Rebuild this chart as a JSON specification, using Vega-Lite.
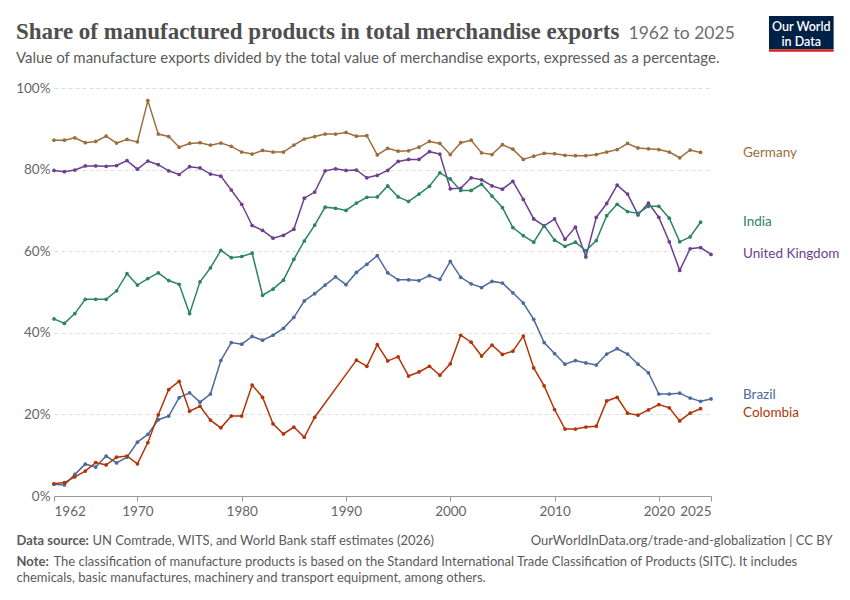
{
  "$schema": "https://vega.github.io/schema/vega-lite/v6.json",
  "width": 657,
  "height": 408,
  "autosize": {"type": "none"},
  "padding": {"left": 54, "top": 88, "right": 139, "bottom": 104},
  "background": "white",
  "config": {
    "font": "Lato",
    "view": {"stroke": null},
    "axis": {"titleFontWeight": "normal", "titleColor": "#5b5b5b", "titleFontSize": 13, "titleAlign": "left", "titleBaseline": "alphabetic"}
  },
  "title": {
    "text": "Share of manufactured products in total merchandise exports",
    "subtitle": "Value of manufacture exports divided by the total value of merchandise exports, expressed as a percentage.",
    "anchor": "start",
    "frame": "group",
    "dx": -38,
    "dy": 50,
    "offset": 0,
    "font": "Liberation Serif",
    "fontSize": 23,
    "fontWeight": "bold",
    "color": "#4e4e4e",
    "subtitleFont": "Lato",
    "subtitleFontSize": 15,
    "subtitleColor": "#5b5b5b",
    "subtitlePadding": 7
  },
  "datasets": {
    "exports": [
      {"country": "Germany", "year": 1962, "share": 87.2}, {"country": "Germany", "year": 1963, "share": 87.2}, {"country": "Germany", "year": 1964, "share": 87.8}, {"country": "Germany", "year": 1965, "share": 86.6}, {"country": "Germany", "year": 1966, "share": 86.9}, {"country": "Germany", "year": 1967, "share": 88.2}, {"country": "Germany", "year": 1968, "share": 86.5}, {"country": "Germany", "year": 1969, "share": 87.4}, {"country": "Germany", "year": 1970, "share": 86.8}, {"country": "Germany", "year": 1971, "share": 96.9}, {"country": "Germany", "year": 1972, "share": 88.7}, {"country": "Germany", "year": 1973, "share": 88.1}, {"country": "Germany", "year": 1974, "share": 85.5}, {"country": "Germany", "year": 1975, "share": 86.4}, {"country": "Germany", "year": 1976, "share": 86.6}, {"country": "Germany", "year": 1977, "share": 86.0}, {"country": "Germany", "year": 1978, "share": 86.5}, {"country": "Germany", "year": 1979, "share": 85.7}, {"country": "Germany", "year": 1980, "share": 84.3}, {"country": "Germany", "year": 1981, "share": 83.8}, {"country": "Germany", "year": 1982, "share": 84.7}, {"country": "Germany", "year": 1983, "share": 84.3}, {"country": "Germany", "year": 1984, "share": 84.3}, {"country": "Germany", "year": 1985, "share": 86.0}, {"country": "Germany", "year": 1986, "share": 87.5}, {"country": "Germany", "year": 1987, "share": 88.1}, {"country": "Germany", "year": 1988, "share": 88.7}, {"country": "Germany", "year": 1989, "share": 88.7}, {"country": "Germany", "year": 1990, "share": 89.1}, {"country": "Germany", "year": 1991, "share": 88.2}, {"country": "Germany", "year": 1992, "share": 88.3}, {"country": "Germany", "year": 1993, "share": 83.6}, {"country": "Germany", "year": 1994, "share": 85.2}, {"country": "Germany", "year": 1995, "share": 84.5}, {"country": "Germany", "year": 1996, "share": 84.6}, {"country": "Germany", "year": 1997, "share": 85.5}, {"country": "Germany", "year": 1998, "share": 86.9}, {"country": "Germany", "year": 1999, "share": 86.4}, {"country": "Germany", "year": 2000, "share": 83.7}, {"country": "Germany", "year": 2001, "share": 86.6}, {"country": "Germany", "year": 2002, "share": 87.2}, {"country": "Germany", "year": 2003, "share": 84.1}, {"country": "Germany", "year": 2004, "share": 83.7}, {"country": "Germany", "year": 2005, "share": 86.1}, {"country": "Germany", "year": 2006, "share": 85.0}, {"country": "Germany", "year": 2007, "share": 82.5}, {"country": "Germany", "year": 2008, "share": 83.3}, {"country": "Germany", "year": 2009, "share": 84.0}, {"country": "Germany", "year": 2010, "share": 83.9}, {"country": "Germany", "year": 2011, "share": 83.5}, {"country": "Germany", "year": 2012, "share": 83.4}, {"country": "Germany", "year": 2013, "share": 83.4}, {"country": "Germany", "year": 2014, "share": 83.7}, {"country": "Germany", "year": 2015, "share": 84.3}, {"country": "Germany", "year": 2016, "share": 84.9}, {"country": "Germany", "year": 2017, "share": 86.4}, {"country": "Germany", "year": 2018, "share": 85.3}, {"country": "Germany", "year": 2019, "share": 85.1}, {"country": "Germany", "year": 2020, "share": 84.9}, {"country": "Germany", "year": 2021, "share": 84.3}, {"country": "Germany", "year": 2022, "share": 82.9}, {"country": "Germany", "year": 2023, "share": 84.8}, {"country": "Germany", "year": 2024, "share": 84.2},
      {"country": "United Kingdom", "year": 1962, "share": 79.8}, {"country": "United Kingdom", "year": 1963, "share": 79.5}, {"country": "United Kingdom", "year": 1964, "share": 79.9}, {"country": "United Kingdom", "year": 1965, "share": 80.9}, {"country": "United Kingdom", "year": 1966, "share": 80.9}, {"country": "United Kingdom", "year": 1967, "share": 80.8}, {"country": "United Kingdom", "year": 1968, "share": 81.0}, {"country": "United Kingdom", "year": 1969, "share": 82.2}, {"country": "United Kingdom", "year": 1970, "share": 80.1}, {"country": "United Kingdom", "year": 1971, "share": 82.1}, {"country": "United Kingdom", "year": 1972, "share": 81.2}, {"country": "United Kingdom", "year": 1973, "share": 79.7}, {"country": "United Kingdom", "year": 1974, "share": 78.8}, {"country": "United Kingdom", "year": 1975, "share": 80.7}, {"country": "United Kingdom", "year": 1976, "share": 80.4}, {"country": "United Kingdom", "year": 1977, "share": 78.9}, {"country": "United Kingdom", "year": 1978, "share": 78.4}, {"country": "United Kingdom", "year": 1979, "share": 75.0}, {"country": "United Kingdom", "year": 1980, "share": 71.5}, {"country": "United Kingdom", "year": 1981, "share": 66.3}, {"country": "United Kingdom", "year": 1982, "share": 65.1}, {"country": "United Kingdom", "year": 1983, "share": 63.2}, {"country": "United Kingdom", "year": 1984, "share": 63.9}, {"country": "United Kingdom", "year": 1985, "share": 65.4}, {"country": "United Kingdom", "year": 1986, "share": 73.0}, {"country": "United Kingdom", "year": 1987, "share": 74.5}, {"country": "United Kingdom", "year": 1988, "share": 79.7}, {"country": "United Kingdom", "year": 1989, "share": 80.2}, {"country": "United Kingdom", "year": 1990, "share": 79.8}, {"country": "United Kingdom", "year": 1991, "share": 79.9}, {"country": "United Kingdom", "year": 1992, "share": 78.0}, {"country": "United Kingdom", "year": 1993, "share": 78.6}, {"country": "United Kingdom", "year": 1994, "share": 79.8}, {"country": "United Kingdom", "year": 1995, "share": 82.0}, {"country": "United Kingdom", "year": 1996, "share": 82.5}, {"country": "United Kingdom", "year": 1997, "share": 82.5}, {"country": "United Kingdom", "year": 1998, "share": 84.4}, {"country": "United Kingdom", "year": 1999, "share": 83.8}, {"country": "United Kingdom", "year": 2000, "share": 75.3}, {"country": "United Kingdom", "year": 2001, "share": 75.4}, {"country": "United Kingdom", "year": 2002, "share": 78.0}, {"country": "United Kingdom", "year": 2003, "share": 77.5}, {"country": "United Kingdom", "year": 2004, "share": 76.0}, {"country": "United Kingdom", "year": 2005, "share": 75.2}, {"country": "United Kingdom", "year": 2006, "share": 77.1}, {"country": "United Kingdom", "year": 2007, "share": 72.7}, {"country": "United Kingdom", "year": 2008, "share": 67.9}, {"country": "United Kingdom", "year": 2009, "share": 66.2}, {"country": "United Kingdom", "year": 2010, "share": 67.9}, {"country": "United Kingdom", "year": 2011, "share": 62.9}, {"country": "United Kingdom", "year": 2012, "share": 65.9}, {"country": "United Kingdom", "year": 2013, "share": 58.6}, {"country": "United Kingdom", "year": 2014, "share": 68.3}, {"country": "United Kingdom", "year": 2015, "share": 71.7}, {"country": "United Kingdom", "year": 2016, "share": 76.2}, {"country": "United Kingdom", "year": 2017, "share": 74.0}, {"country": "United Kingdom", "year": 2018, "share": 68.9}, {"country": "United Kingdom", "year": 2019, "share": 71.8}, {"country": "United Kingdom", "year": 2020, "share": 68.3}, {"country": "United Kingdom", "year": 2021, "share": 62.3}, {"country": "United Kingdom", "year": 2022, "share": 55.3}, {"country": "United Kingdom", "year": 2023, "share": 60.6}, {"country": "United Kingdom", "year": 2024, "share": 60.9}, {"country": "United Kingdom", "year": 2025, "share": 59.2},
      {"country": "India", "year": 1962, "share": 43.4}, {"country": "India", "year": 1963, "share": 42.3}, {"country": "India", "year": 1964, "share": 44.7}, {"country": "India", "year": 1965, "share": 48.2}, {"country": "India", "year": 1966, "share": 48.2}, {"country": "India", "year": 1967, "share": 48.2}, {"country": "India", "year": 1968, "share": 50.3}, {"country": "India", "year": 1969, "share": 54.5}, {"country": "India", "year": 1970, "share": 51.7}, {"country": "India", "year": 1971, "share": 53.3}, {"country": "India", "year": 1972, "share": 54.7}, {"country": "India", "year": 1973, "share": 52.8}, {"country": "India", "year": 1974, "share": 51.9}, {"country": "India", "year": 1975, "share": 44.7}, {"country": "India", "year": 1976, "share": 52.5}, {"country": "India", "year": 1977, "share": 55.9}, {"country": "India", "year": 1978, "share": 60.2}, {"country": "India", "year": 1979, "share": 58.4}, {"country": "India", "year": 1980, "share": 58.7}, {"country": "India", "year": 1981, "share": 59.5}, {"country": "India", "year": 1982, "share": 49.2}, {"country": "India", "year": 1983, "share": 50.7}, {"country": "India", "year": 1984, "share": 52.9}, {"country": "India", "year": 1985, "share": 58.0}, {"country": "India", "year": 1986, "share": 62.5}, {"country": "India", "year": 1987, "share": 66.4}, {"country": "India", "year": 1988, "share": 70.8}, {"country": "India", "year": 1989, "share": 70.5}, {"country": "India", "year": 1990, "share": 70.0}, {"country": "India", "year": 1991, "share": 71.8}, {"country": "India", "year": 1992, "share": 73.2}, {"country": "India", "year": 1993, "share": 73.3}, {"country": "India", "year": 1994, "share": 76.0}, {"country": "India", "year": 1995, "share": 73.3}, {"country": "India", "year": 1996, "share": 72.2}, {"country": "India", "year": 1997, "share": 74.0}, {"country": "India", "year": 1998, "share": 75.9}, {"country": "India", "year": 1999, "share": 79.2}, {"country": "India", "year": 2000, "share": 77.7}, {"country": "India", "year": 2001, "share": 74.9}, {"country": "India", "year": 2002, "share": 74.9}, {"country": "India", "year": 2003, "share": 76.4}, {"country": "India", "year": 2004, "share": 73.5}, {"country": "India", "year": 2005, "share": 70.7}, {"country": "India", "year": 2006, "share": 65.8}, {"country": "India", "year": 2007, "share": 63.8}, {"country": "India", "year": 2008, "share": 62.2}, {"country": "India", "year": 2009, "share": 66.3}, {"country": "India", "year": 2010, "share": 62.7}, {"country": "India", "year": 2011, "share": 61.2}, {"country": "India", "year": 2012, "share": 62.2}, {"country": "India", "year": 2013, "share": 60.1}, {"country": "India", "year": 2014, "share": 62.6}, {"country": "India", "year": 2015, "share": 68.7}, {"country": "India", "year": 2016, "share": 71.5}, {"country": "India", "year": 2017, "share": 69.7}, {"country": "India", "year": 2018, "share": 69.3}, {"country": "India", "year": 2019, "share": 71.0}, {"country": "India", "year": 2020, "share": 71.0}, {"country": "India", "year": 2021, "share": 68.1}, {"country": "India", "year": 2022, "share": 62.3}, {"country": "India", "year": 2023, "share": 63.5}, {"country": "India", "year": 2024, "share": 67.1},
      {"country": "Brazil", "year": 1962, "share": 2.9}, {"country": "Brazil", "year": 1963, "share": 2.7}, {"country": "Brazil", "year": 1964, "share": 5.3}, {"country": "Brazil", "year": 1965, "share": 7.8}, {"country": "Brazil", "year": 1966, "share": 7.1}, {"country": "Brazil", "year": 1967, "share": 9.8}, {"country": "Brazil", "year": 1968, "share": 8.1}, {"country": "Brazil", "year": 1969, "share": 9.5}, {"country": "Brazil", "year": 1970, "share": 13.2}, {"country": "Brazil", "year": 1971, "share": 15.1}, {"country": "Brazil", "year": 1972, "share": 18.7}, {"country": "Brazil", "year": 1973, "share": 19.6}, {"country": "Brazil", "year": 1974, "share": 24.1}, {"country": "Brazil", "year": 1975, "share": 25.3}, {"country": "Brazil", "year": 1976, "share": 23.0}, {"country": "Brazil", "year": 1977, "share": 25.0}, {"country": "Brazil", "year": 1978, "share": 33.2}, {"country": "Brazil", "year": 1979, "share": 37.6}, {"country": "Brazil", "year": 1980, "share": 37.2}, {"country": "Brazil", "year": 1981, "share": 39.1}, {"country": "Brazil", "year": 1982, "share": 38.2}, {"country": "Brazil", "year": 1983, "share": 39.4}, {"country": "Brazil", "year": 1984, "share": 41.1}, {"country": "Brazil", "year": 1985, "share": 43.8}, {"country": "Brazil", "year": 1986, "share": 47.8}, {"country": "Brazil", "year": 1987, "share": 49.6}, {"country": "Brazil", "year": 1988, "share": 51.7}, {"country": "Brazil", "year": 1989, "share": 53.7}, {"country": "Brazil", "year": 1990, "share": 51.8}, {"country": "Brazil", "year": 1991, "share": 54.8}, {"country": "Brazil", "year": 1992, "share": 56.8}, {"country": "Brazil", "year": 1993, "share": 58.9}, {"country": "Brazil", "year": 1994, "share": 54.7}, {"country": "Brazil", "year": 1995, "share": 53.0}, {"country": "Brazil", "year": 1996, "share": 53.0}, {"country": "Brazil", "year": 1997, "share": 52.8}, {"country": "Brazil", "year": 1998, "share": 54.0}, {"country": "Brazil", "year": 1999, "share": 53.1}, {"country": "Brazil", "year": 2000, "share": 57.5}, {"country": "Brazil", "year": 2001, "share": 53.6}, {"country": "Brazil", "year": 2002, "share": 52.0}, {"country": "Brazil", "year": 2003, "share": 51.1}, {"country": "Brazil", "year": 2004, "share": 52.6}, {"country": "Brazil", "year": 2005, "share": 52.2}, {"country": "Brazil", "year": 2006, "share": 49.8}, {"country": "Brazil", "year": 2007, "share": 47.3}, {"country": "Brazil", "year": 2008, "share": 43.3}, {"country": "Brazil", "year": 2009, "share": 37.6}, {"country": "Brazil", "year": 2010, "share": 34.9}, {"country": "Brazil", "year": 2011, "share": 32.3}, {"country": "Brazil", "year": 2012, "share": 33.2}, {"country": "Brazil", "year": 2013, "share": 32.6}, {"country": "Brazil", "year": 2014, "share": 32.1}, {"country": "Brazil", "year": 2015, "share": 34.8}, {"country": "Brazil", "year": 2016, "share": 36.1}, {"country": "Brazil", "year": 2017, "share": 34.8}, {"country": "Brazil", "year": 2018, "share": 32.3}, {"country": "Brazil", "year": 2019, "share": 30.2}, {"country": "Brazil", "year": 2020, "share": 25.0}, {"country": "Brazil", "year": 2021, "share": 25.0}, {"country": "Brazil", "year": 2022, "share": 25.2}, {"country": "Brazil", "year": 2023, "share": 24.0}, {"country": "Brazil", "year": 2024, "share": 23.2}, {"country": "Brazil", "year": 2025, "share": 23.8},
      {"country": "Colombia", "year": 1962, "share": 3.0}, {"country": "Colombia", "year": 1963, "share": 3.3}, {"country": "Colombia", "year": 1964, "share": 4.7}, {"country": "Colombia", "year": 1965, "share": 6.1}, {"country": "Colombia", "year": 1966, "share": 8.2}, {"country": "Colombia", "year": 1967, "share": 7.6}, {"country": "Colombia", "year": 1968, "share": 9.5}, {"country": "Colombia", "year": 1969, "share": 9.8}, {"country": "Colombia", "year": 1970, "share": 7.9}, {"country": "Colombia", "year": 1971, "share": 13.1}, {"country": "Colombia", "year": 1972, "share": 19.9}, {"country": "Colombia", "year": 1973, "share": 26.1}, {"country": "Colombia", "year": 1974, "share": 28.1}, {"country": "Colombia", "year": 1975, "share": 20.8}, {"country": "Colombia", "year": 1976, "share": 22.0}, {"country": "Colombia", "year": 1977, "share": 18.6}, {"country": "Colombia", "year": 1978, "share": 16.7}, {"country": "Colombia", "year": 1979, "share": 19.6}, {"country": "Colombia", "year": 1980, "share": 19.6}, {"country": "Colombia", "year": 1981, "share": 27.2}, {"country": "Colombia", "year": 1982, "share": 24.2}, {"country": "Colombia", "year": 1983, "share": 17.7}, {"country": "Colombia", "year": 1984, "share": 15.2}, {"country": "Colombia", "year": 1985, "share": 16.9}, {"country": "Colombia", "year": 1986, "share": 14.4}, {"country": "Colombia", "year": 1987, "share": 19.3}, {"country": "Colombia", "year": 1991, "share": 33.3}, {"country": "Colombia", "year": 1992, "share": 31.8}, {"country": "Colombia", "year": 1993, "share": 37.1}, {"country": "Colombia", "year": 1994, "share": 33.1}, {"country": "Colombia", "year": 1995, "share": 34.1}, {"country": "Colombia", "year": 1996, "share": 29.4}, {"country": "Colombia", "year": 1997, "share": 30.4}, {"country": "Colombia", "year": 1998, "share": 31.8}, {"country": "Colombia", "year": 1999, "share": 29.6}, {"country": "Colombia", "year": 2000, "share": 32.4}, {"country": "Colombia", "year": 2001, "share": 39.4}, {"country": "Colombia", "year": 2002, "share": 37.7}, {"country": "Colombia", "year": 2003, "share": 34.3}, {"country": "Colombia", "year": 2004, "share": 37.0}, {"country": "Colombia", "year": 2005, "share": 34.7}, {"country": "Colombia", "year": 2006, "share": 35.5}, {"country": "Colombia", "year": 2007, "share": 39.2}, {"country": "Colombia", "year": 2008, "share": 31.4}, {"country": "Colombia", "year": 2009, "share": 27.0}, {"country": "Colombia", "year": 2010, "share": 21.2}, {"country": "Colombia", "year": 2011, "share": 16.4}, {"country": "Colombia", "year": 2012, "share": 16.4}, {"country": "Colombia", "year": 2013, "share": 16.9}, {"country": "Colombia", "year": 2014, "share": 17.1}, {"country": "Colombia", "year": 2015, "share": 23.3}, {"country": "Colombia", "year": 2016, "share": 24.2}, {"country": "Colombia", "year": 2017, "share": 20.3}, {"country": "Colombia", "year": 2018, "share": 19.8}, {"country": "Colombia", "year": 2019, "share": 21.1}, {"country": "Colombia", "year": 2020, "share": 22.4}, {"country": "Colombia", "year": 2021, "share": 21.6}, {"country": "Colombia", "year": 2022, "share": 18.4}, {"country": "Colombia", "year": 2023, "share": 20.3}, {"country": "Colombia", "year": 2024, "share": 21.4}
    ],
    "labels": [
      {"country": "Germany", "labelValue": 84.0},
      {"country": "India", "labelValue": 67.1},
      {"country": "United Kingdom", "labelValue": 59.3},
      {"country": "Brazil", "labelValue": 24.7},
      {"country": "Colombia", "labelValue": 20.3}
    ],
    "brand": [
      {"name": "Our World\nin Data"}
    ]
  },
  "resolve": {"scale": {"x": "independent", "y": "independent"}},
  "layer": [
    {
      "data": {"name": "exports"},
      "encoding": {
        "x": {
          "field": "year",
          "type": "quantitative",
          "scale": {"domain": [1962, 2025], "nice": false, "zero": false},
          "axis": {
            "values": [1962, 1970, 1980, 1990, 2000, 2010, 2020, 2025],
            "format": "d",
            "labelFlush": true,
            "labelOverlap": false,
            "grid": false,
            "domainColor": "#999999",
            "tickColor": "#999999",
            "tickSize": 5,
            "labelColor": "#666666",
            "labelFontSize": 13.5,
            "labelPadding": 3,
            "title": "Data source:",
            "titleFontWeight": "bold",
            "titleX": -38,
            "titleY": 48
          }
        },
        "y": {
          "field": "share",
          "type": "quantitative",
          "scale": {"domain": [0, 100], "nice": false},
          "axis": {
            "values": [0, 20, 40, 60, 80, 100],
            "labelExpr": "datum.value + '%'",
            "domain": false,
            "ticks": false,
            "gridDash": [4, 3],
            "gridColor": "#dddddd",
            "labelColor": "#666666",
            "labelFontSize": 13.5,
            "labelPadding": 4,
            "title": "1962 to 2025",
            "titleAngle": 0,
            "titleX": 574,
            "titleY": -50,
            "titleFontSize": 17.5,
            "titleColor": "#6e6e6e"
          }
        },
        "color": {
          "field": "country",
          "type": "nominal",
          "scale": {
            "domain": ["Germany", "India", "United Kingdom", "Brazil", "Colombia"],
            "range": ["#9c6e3c", "#2c8465", "#6d3e91", "#4c6a9c", "#b13507"]
          },
          "legend": null
        }
      },
      "layer": [
        {"mark": {"type": "line", "strokeWidth": 1.5}},
        {"mark": {"type": "point", "filled": true, "size": 14, "opacity": 1}}
      ]
    },
    {
      "data": {"name": "labels"},
      "mark": {"type": "text", "align": "left", "baseline": "middle", "dx": 32, "fontSize": 13.5},
      "encoding": {
        "x": {
          "datum": 2025,
          "type": "quantitative",
          "scale": {"domain": [1962, 2025], "nice": false, "zero": false},
          "axis": {
            "orient": "bottom", "labels": false, "ticks": false, "domain": false, "grid": false,
            "title": "Note:",
            "titleFontWeight": "bold",
            "titleX": -38,
            "titleY": 69
          }
        },
        "y": {
          "field": "labelValue",
          "type": "quantitative",
          "scale": {"domain": [0, 100], "nice": false},
          "axis": {
            "orient": "right", "labels": false, "ticks": false, "domain": false, "grid": false,
            "title": "OurWorldInData.org/trade-and-globalization | CC BY",
            "titleAngle": 0,
            "titleX": 121,
            "titleY": 456,
            "titleAlign": "right"
          }
        },
        "text": {"field": "country"},
        "color": {"field": "country", "type": "nominal", "legend": null}
      }
    },
    {
      "data": {"name": "brand"},
      "layer": [
        {
          "mark": {"type": "rect", "color": "#002147"},
          "encoding": {
            "x": {
              "datum": 2030.56,
              "type": "quantitative",
              "scale": {"domain": [1962, 2025], "nice": false, "zero": false},
              "axis": {
                "orient": "bottom", "labels": false, "ticks": false, "domain": false, "grid": false,
                "title": "UN Comtrade, WITS, and World Bank staff estimates (2026)",
                "titleX": 38,
                "titleY": 48
              }
            },
            "x2": {"datum": 2036.76},
            "y": {
              "datum": 117.65,
              "type": "quantitative",
              "scale": {"domain": [0, 100], "nice": false},
              "axis": {
                "orient": "left", "labels": false, "ticks": false, "domain": false, "grid": false,
                "title": "The classification of manufacture products is based on the Standard International Trade Classification of Products (SITC). It includes",
                "titleAngle": 0,
                "titleX": -1,
                "titleY": 477
              }
            },
            "y2": {"datum": 109.48}
          }
        },
        {
          "mark": {"type": "rect", "color": "#ce261e"},
          "encoding": {
            "x": {"datum": 2030.56},
            "x2": {"datum": 2036.76},
            "y": {"datum": 109.48},
            "y2": {"datum": 108.9}
          }
        }
      ]
    },
    {
      "data": {"name": "brand"},
      "mark": {"type": "text", "align": "center", "baseline": "middle", "lineBreak": "\n", "lineHeight": 15, "fontSize": 12.5, "fontWeight": 600, "color": "white"},
      "encoding": {
        "x": {
          "datum": 2033.66,
          "type": "quantitative",
          "scale": {"domain": [1962, 2025], "nice": false, "zero": false},
          "axis": {
            "orient": "bottom", "labels": false, "ticks": false, "domain": false, "grid": false,
            "title": "chemicals, basic manufactures, machinery and transport equipment, among others.",
            "titleX": -38,
            "titleY": 85
          }
        },
        "y": {
          "datum": 115.0,
          "type": "quantitative",
          "scale": {"domain": [0, 100], "nice": false},
          "axis": null
        },
        "text": {"field": "name"}
      }
    }
  ]
}
